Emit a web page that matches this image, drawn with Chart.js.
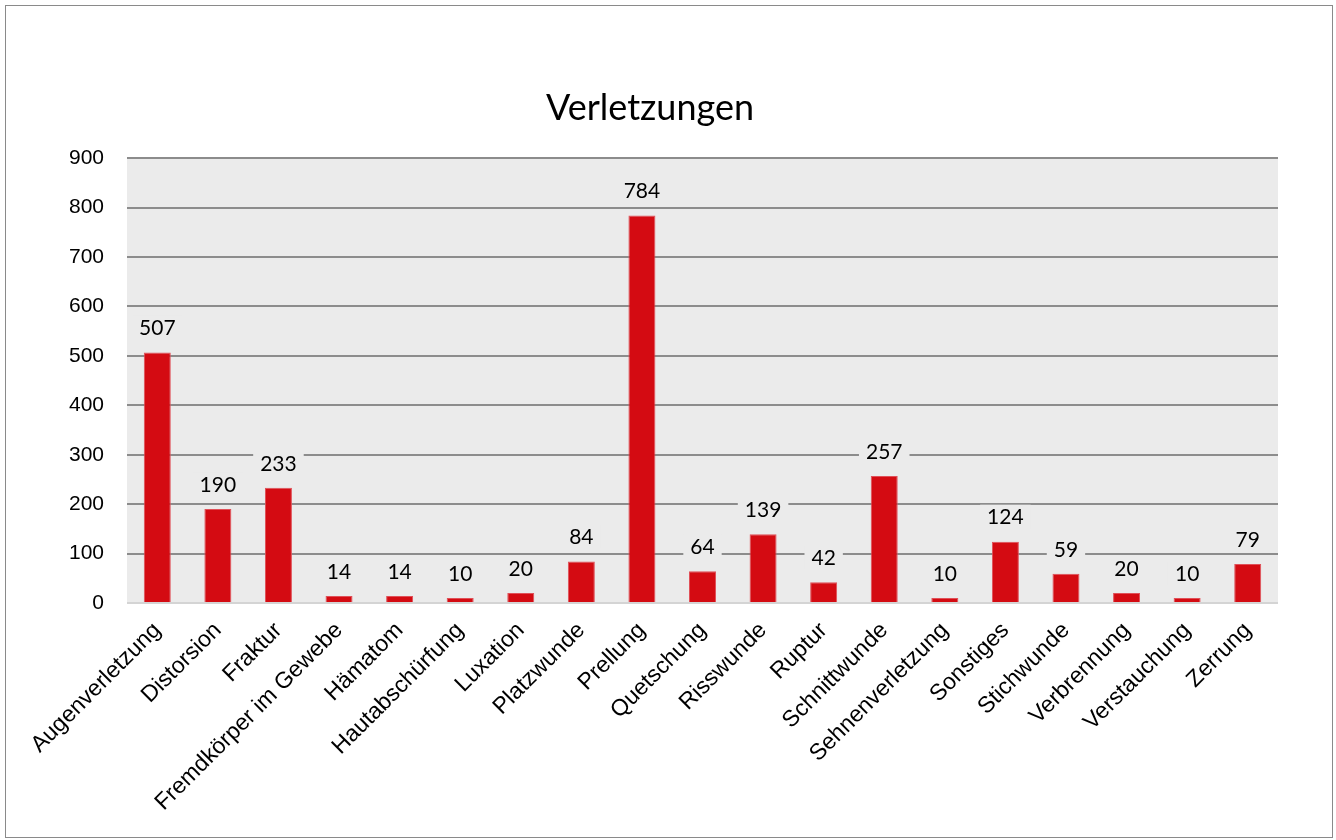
<!DOCTYPE html>
<html>
<head>
<meta charset="utf-8">
<script src="https://cdn.jsdelivr.net/npm/chart.js@4/dist/chart.umd.min.js"></script>
<style>
  html, body { margin: 0; padding: 0; background: #fff; }
  #wrap { width: 1336px; height: 840px; position: relative; }
</style>
</head>
<body>
<div id="wrap"><canvas id="c" width="1336" height="840"></canvas></div>
<script>
const categories = ["Augenverletzung", "Distorsion", "Fraktur", "Fremdkörper im Gewebe", "Hämatom",
  "Hautabschürfung", "Luxation", "Platzwunde", "Prellung", "Quetschung", "Risswunde", "Ruptur",
  "Schnittwunde", "Sehnenverletzung", "Sonstiges", "Stichwunde", "Verbrennung", "Verstauchung", "Zerrung"];
const values = [507, 190, 233, 14, 14, 10, 20, 84, 784, 64, 139, 42, 257, 10, 124, 59, 20, 10, 79];
const chartTitle = "Verletzungen";
const yMax = 900;
const yStep = 100;

const PLOT_BG = '#ebebeb';

const framePlugin = {
  id: 'frame',
  beforeDraw(chart) {
    const { ctx, chartArea: a } = chart;
    ctx.save();
    ctx.fillStyle = '#fff';
    ctx.fillRect(0, 0, chart.width, chart.height);
    ctx.fillStyle = PLOT_BG;
    ctx.fillRect(a.left, a.top, a.right - a.left, a.bottom - a.top);
    ctx.restore();
  },
  afterDraw(chart) {
    const ctx = chart.ctx;
    ctx.save();
    ctx.strokeStyle = '#8a8a8a';
    ctx.lineWidth = 1;
    ctx.strokeRect(5.5, 5.5, 1327, 832);
    ctx.restore();
  }
};

const labelPlugin = {
  id: 'barLabels',
  afterDatasetsDraw(chart) {
    const { ctx } = chart;
    const meta = chart.getDatasetMeta(0);
    ctx.save();
    ctx.font = '21px Lato';
    ctx.textAlign = 'center';
    ctx.textBaseline = 'middle';
    meta.data.forEach((bar, i) => {
      const txt = String(chart.data.datasets[0].data[i]);
      const w = ctx.measureText(txt).width + 14;
      const cy = bar.y - 25;
      ctx.fillStyle = PLOT_BG;
      ctx.fillRect(bar.x - w / 2, cy - 12, w, 24);
      ctx.fillStyle = '#000';
      ctx.fillText(txt, bar.x, cy + 1);
    });
    ctx.restore();
  }
};

new Chart(document.getElementById('c'), {
  type: 'bar',
  data: {
    labels: categories,
    datasets: [{
      data: values,
      backgroundColor: '#d40b12',
      borderColor: '#e05058',
      borderWidth: { top: 1, left: 1, right: 1, bottom: 0 },
      barPercentage: 0.9,
      categoryPercentage: 0.495
    }]
  },
  options: {
    responsive: false,
    animation: false,
    devicePixelRatio: 1,
    layout: { padding: { left: 22, right: 58, top: 0, bottom: 0 } },
    plugins: {
      legend: { display: false },
      tooltip: { enabled: false },
      title: {
        display: true,
        text: chartTitle,
        color: '#000',
        font: { family: 'Lato', size: 36, weight: 'normal', lineHeight: 1.2 },
        padding: { top: 87, bottom: 28 }
      }
    },
    scales: {
      x: {
        grid: { display: false, drawTicks: false },
        border: { display: false },
        ticks: {
          color: '#000',
          font: { family: 'Liberation Sans', size: 23 },
          minRotation: 45,
          maxRotation: 45,
          autoSkip: false,
          padding: 14
        },
        afterFit(axis) { axis.height = 237; }
      },
      y: {
        min: 0,
        max: yMax,
        grid: {
          color: (c) => (c.tick && c.tick.value === 0) ? '#d4d4d4' : '#8c8c8c',
          lineWidth: 2,
          drawTicks: false
        },
        border: { display: false },
        ticks: {
          stepSize: yStep,
          color: '#000',
          font: { family: 'Liberation Sans', size: 21 },
          padding: 23
        },
        afterFit(axis) { axis.width = 105; }
      }
    }
  },
  plugins: [framePlugin, labelPlugin]
});
</script>
</body>
</html>
